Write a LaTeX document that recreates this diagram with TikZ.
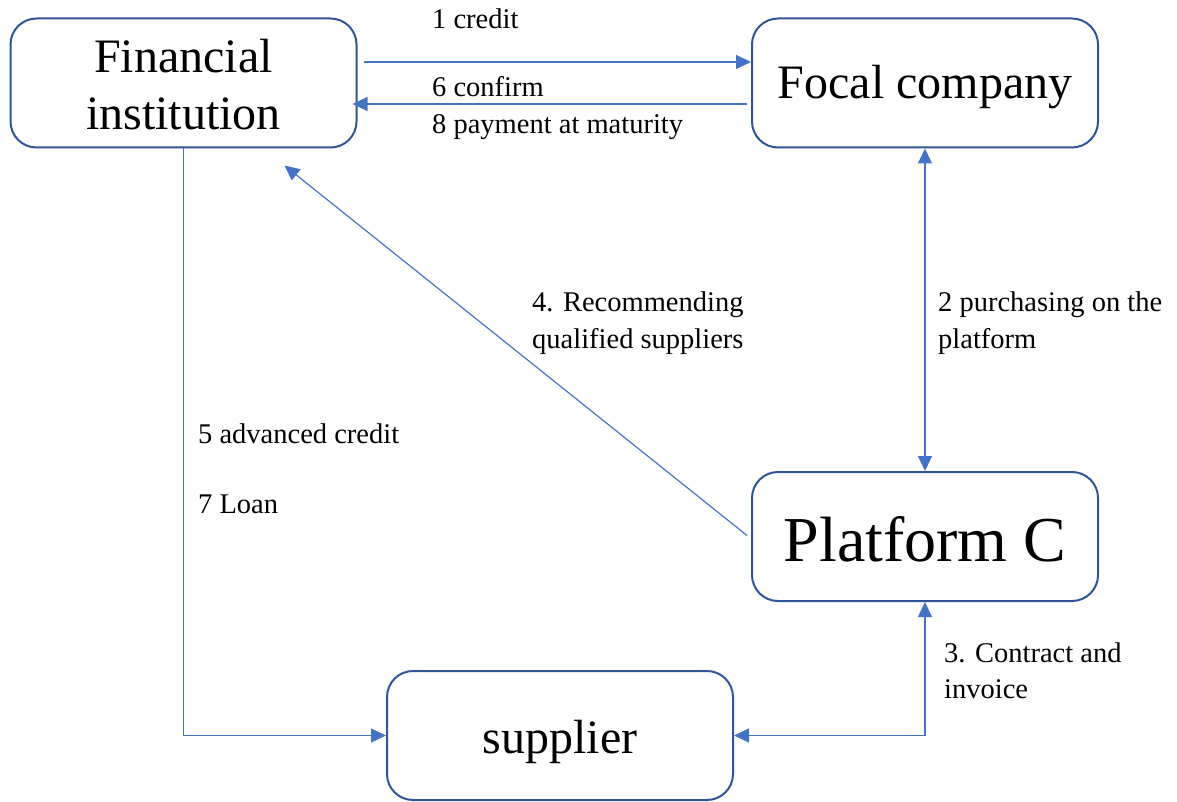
\documentclass[tikz,border=0pt]{standalone}
\usepackage{fontspec}
\setmainfont{Liberation Serif}
\usetikzlibrary{arrows.meta,calc}
\definecolor{boxline}{HTML}{2F5597}
\definecolor{flow}{HTML}{4472C4}
\begin{document}
\begin{tikzpicture}[x=1pt,y=-1pt,
  party/.style={draw=boxline,line width=2pt,rounded corners=26pt,
    minimum width=346pt,minimum height=129pt,inner sep=0pt},
  big/.style={font=\fontsize{48}{57}\selectfont,align=center,inner sep=0pt},
  huge/.style={font=\fontsize{64}{72}\selectfont,inner sep=0pt},
  flowline/.style={draw=flow,line width=1.2pt},
  tip/.style={-{Triangle[length=15pt,width=14pt]}},
  twotip/.style={{Triangle[length=15pt,width=14pt]}-{Triangle[length=15pt,width=14pt]}},
  lbl/.style={anchor=base west,inner sep=0pt,font=\fontsize{28.5}{37}\selectfont}
]
\useasboundingbox (0,0) rectangle (1177,802);

% parties
\node[party,label={[big,yshift=-2pt]center:Financial\\institution}] (fin) at (183.5,83) {};
\node[party,label={[big,yshift=-4pt]center:Focal company}] (focal) at (925,83) {};
\node[party,label={[huge,yshift=-3pt]center:Platform C}] (plat) at (925,536.5) {};
\node[party,label={[big,yshift=-6pt]center:supplier}] (sup) at (560,735.5) {};

% flows
\draw[flowline,tip] ($(fin.east)+(6,-21)$) -- ($(focal.west)+(0,-21)$);
\draw[flowline,tip] ($(focal.west)+(-4,21)$) -- ($(fin.east)+(-5,21)$);
\draw[flowline,twotip] (focal.south) -- (plat.north);
\draw[flowline,tip] ($(plat.west)+(-4,-1)$) -- ($(fin.south)+(101,17)$);
\draw[flowline,tip] (fin.south) -- (fin.south |- sup.west) -- (sup.west);
\draw[flowline,twotip] (sup.east) -- (plat.south |- sup.east) -- (plat.south);

% labels
\node[lbl] (l1) at (432,29) {1 credit};
\node[lbl] (l6) at (432,97) {6 confirm};
\node[lbl] (l8) at (432,134) {8 payment at maturity};
\node[lbl] (l4a) at (532,311) {4. Recommending};
\node[lbl] (l4b) at (532,348) {qualified suppliers};
\node[lbl] (l2a) at (938,311) {2 purchasing on the};
\node[lbl] (l2b) at (938,348) {platform};
\node[lbl] (l5) at (198,443) {5 advanced credit};
\node[lbl] (l7) at (198,513) {7 Loan};
\node[lbl] (l3a) at (944,662) {3. Contract and};
\node[lbl] (l3b) at (944,698) {invoice};
\end{tikzpicture}
\end{document}
